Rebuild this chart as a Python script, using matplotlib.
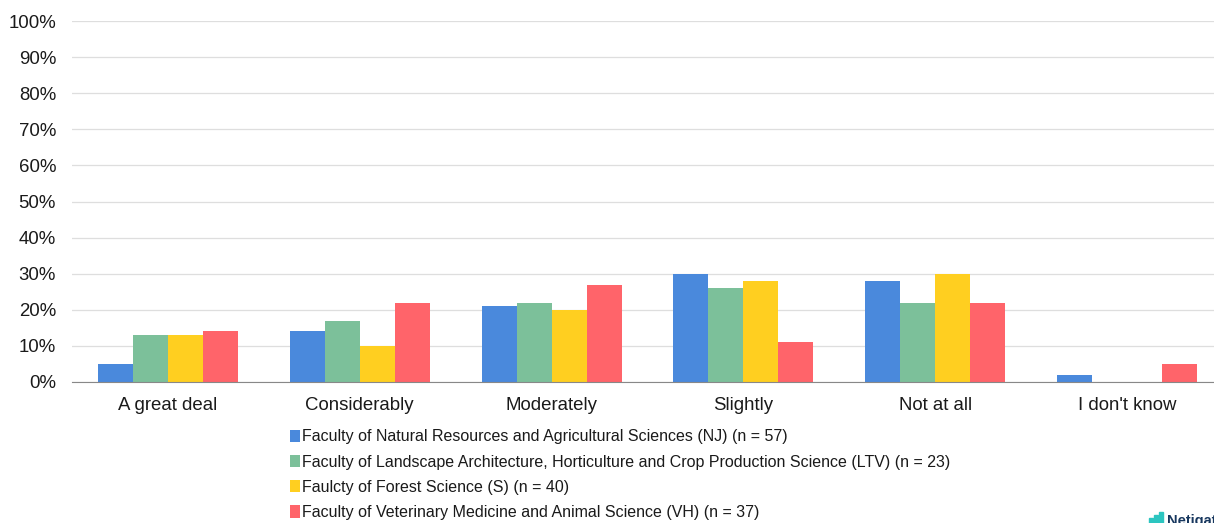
import numpy as np
import matplotlib
matplotlib.use('Agg')
import matplotlib.pyplot as plt
from matplotlib.patches import Rectangle

plt.rcParams['font.family'] = ['Liberation Sans', 'DejaVu Sans']

categories = ['A great deal', 'Considerably', 'Moderately', 'Slightly', 'Not at all', "I don't know"]
nj = [5, 14, 21, 30, 28, 2]
ltv = [13, 17, 22, 26, 22, 0]
s = [13, 10, 20, 28, 30, 0]
vh = [14, 22, 27, 11, 22, 5]
labels = ['Faculty of Natural Resources and Agricultural Sciences (NJ) (n = 57)',
          'Faculty of Landscape Architecture, Horticulture and Crop Production Science (LTV) (n = 23)',
          'Faulcty of Forest Science (S) (n = 40)',
          'Faculty of Veterinary Medicine and Animal Science (VH) (n = 37)']
colors = ['#4a89dc', '#7cc09a', '#ffcf20', '#ff646a']

W, H = 1214, 523
fig = plt.figure(figsize=(W / 100, H / 100), dpi=100)
ax = fig.add_axes([72 / W, 1 - 382 / H, (W - 72) / W, (382 - 21) / H])

x = np.arange(len(categories))
bw = 35 / 191.8
for i, (vals, lab, c) in enumerate(zip([nj, ltv, s, vh], labels, colors)):
    ax.bar(x + (i - 1.5) * bw, vals, bw, color=c, label=lab, zorder=2)

# plot area runs past the right edge of the image
ax.set_xlim(-0.5, -0.5 + (W - 72) / 191.8)
ax.set_ylim(0, 100)
ax.set_yticks(range(0, 101, 10))
ax.set_yticklabels([f'{v}%' for v in range(0, 101, 10)], fontsize=13.4, color='#1a1a1a')
ax.set_xticks(x)
ax.set_xticklabels(categories, fontsize=13.4, color='#1a1a1a')
ax.tick_params(length=0)
ax.tick_params(axis='y', pad=11.5)
ax.tick_params(axis='x', pad=10.5)
ax.grid(axis='y', color='#dedede', lw=0.9, zorder=0)
ax.set_axisbelow(True)
for side in ['top', 'right', 'left']:
    ax.spines[side].set_visible(False)
ax.spines['bottom'].set_color('#888888')

ax.legend(loc='upper left', bbox_to_anchor=(285 / W, 1 - 424.5 / H), bbox_transform=fig.transFigure,
          frameon=False, fontsize=11.55, ncol=1, handlelength=0.62, handleheight=0.8, handletextpad=0.13,
          labelspacing=0.64, borderpad=0.3, borderaxespad=0, labelcolor='#1a1a1a')

# logo in the bottom corner
fig.add_artist(Rectangle((1149 / W, 0), 4 / W, 5 / H, color='#2cc5c0', transform=fig.transFigure))
fig.add_artist(Rectangle((1154 / W, 0), 4 / W, 8 / H, color='#2cc5c0', transform=fig.transFigure))
fig.add_artist(Rectangle((1159 / W, 0), 4 / W, 11 / H, color='#2cc5c0', transform=fig.transFigure))
fig.text(1167 / W, -2 / H, 'Netigate', fontsize=10.5, fontweight='bold', color='#17375e', va='baseline')

fig.savefig('out.png', dpi=100)
